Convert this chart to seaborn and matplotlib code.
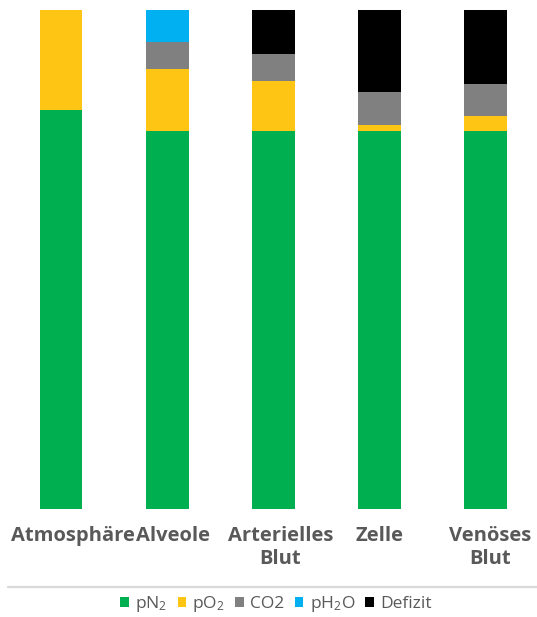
import numpy as np
import pandas as pd
import matplotlib
matplotlib.use("Agg")
import matplotlib.pyplot as plt
import matplotlib.transforms as mtransforms
from matplotlib.lines import Line2D
from matplotlib.patches import Patch
import seaborn as sns

# Partial pressures (mmHg) along the oxygen cascade
categories = ["Atmosphäre", "Alveole", "Arterielles\nBlut", "Zelle", "Venöses\nBlut"]
pN2 = [608, 576, 576, 576, 576]
pO2 = [152, 94, 76, 10, 23]
pCO2 = [0, 42, 42, 49, 49]
pH2O = [0, 48, 0, 0, 0]
defizit = [0, 0, 66, 125, 112]

series_names = ["pN$\\mathregular{_2}$", "pO$\\mathregular{_2}$", "CO2",
                "pH$\\mathregular{_2}$O", "Defizit"]
series_values = [pN2, pO2, pCO2, pH2O, defizit]
series_colors = ["#00B050", "#FFC514", "#808080", "#00B0F0", "#000000"]

sns.set_theme(style="white")
plt.rcParams["font.family"] = ["Open Sans", "DejaVu Sans"]

df = pd.DataFrame({"Kategorie": categories})
cum = np.cumsum(np.array(series_values), axis=0)

fig = plt.figure(figsize=(5.37, 6.17), dpi=100)
ax = fig.add_axes([8.2 / 537, (617 - 509.3) / 617, 530.4 / 537, 499 / 617])

# Stacked bars: draw cumulative totals from the top layer down
for i in range(len(series_values) - 1, -1, -1):
    df["wert"] = cum[i]
    sns.barplot(data=df, x="Kategorie", y="wert", color=series_colors[i],
                width=0.40, saturation=1, linewidth=0, ax=ax)

ax.set_xlim(-0.5, len(categories) - 0.5)
ax.set_ylim(0, 760)
ax.set_xlabel("")
ax.set_ylabel("")
ax.set_yticks([])
for s in ax.spines.values():
    s.set_visible(False)
ax.tick_params(axis="x", length=0, pad=12)

# Category labels, nudged right so the first one stays inside the figure
label_shift_px = [12, 6, 7, 0, 5]
for lbl, dx in zip(ax.get_xticklabels(), label_shift_px):
    lbl.set_fontweight("bold")
    lbl.set_fontsize(14.5)
    lbl.set_color("#595959")
    lbl.set_linespacing(1.2)
    lbl.set_transform(lbl.get_transform() +
                      mtransforms.ScaledTranslation(dx / 100, 0, fig.dpi_scale_trans))

# Separator line above the legend
fig.add_artist(Line2D([8 / 537, 1.0], [(617 - 586.7) / 617] * 2,
                      transform=fig.transFigure, color="#D9D9D9", lw=1.6))

handles = [Patch(facecolor=c, edgecolor="none") for c in series_colors]
fig.legend(handles, series_names, loc="center", bbox_to_anchor=(0.514, 0.021),
           ncol=5, frameon=False, fontsize=12.5, labelcolor="#595959",
           handlelength=0.5, handleheight=0.5, handletextpad=0.35,
           columnspacing=0.6, borderaxespad=0)

fig.savefig("out.png", dpi=100)
